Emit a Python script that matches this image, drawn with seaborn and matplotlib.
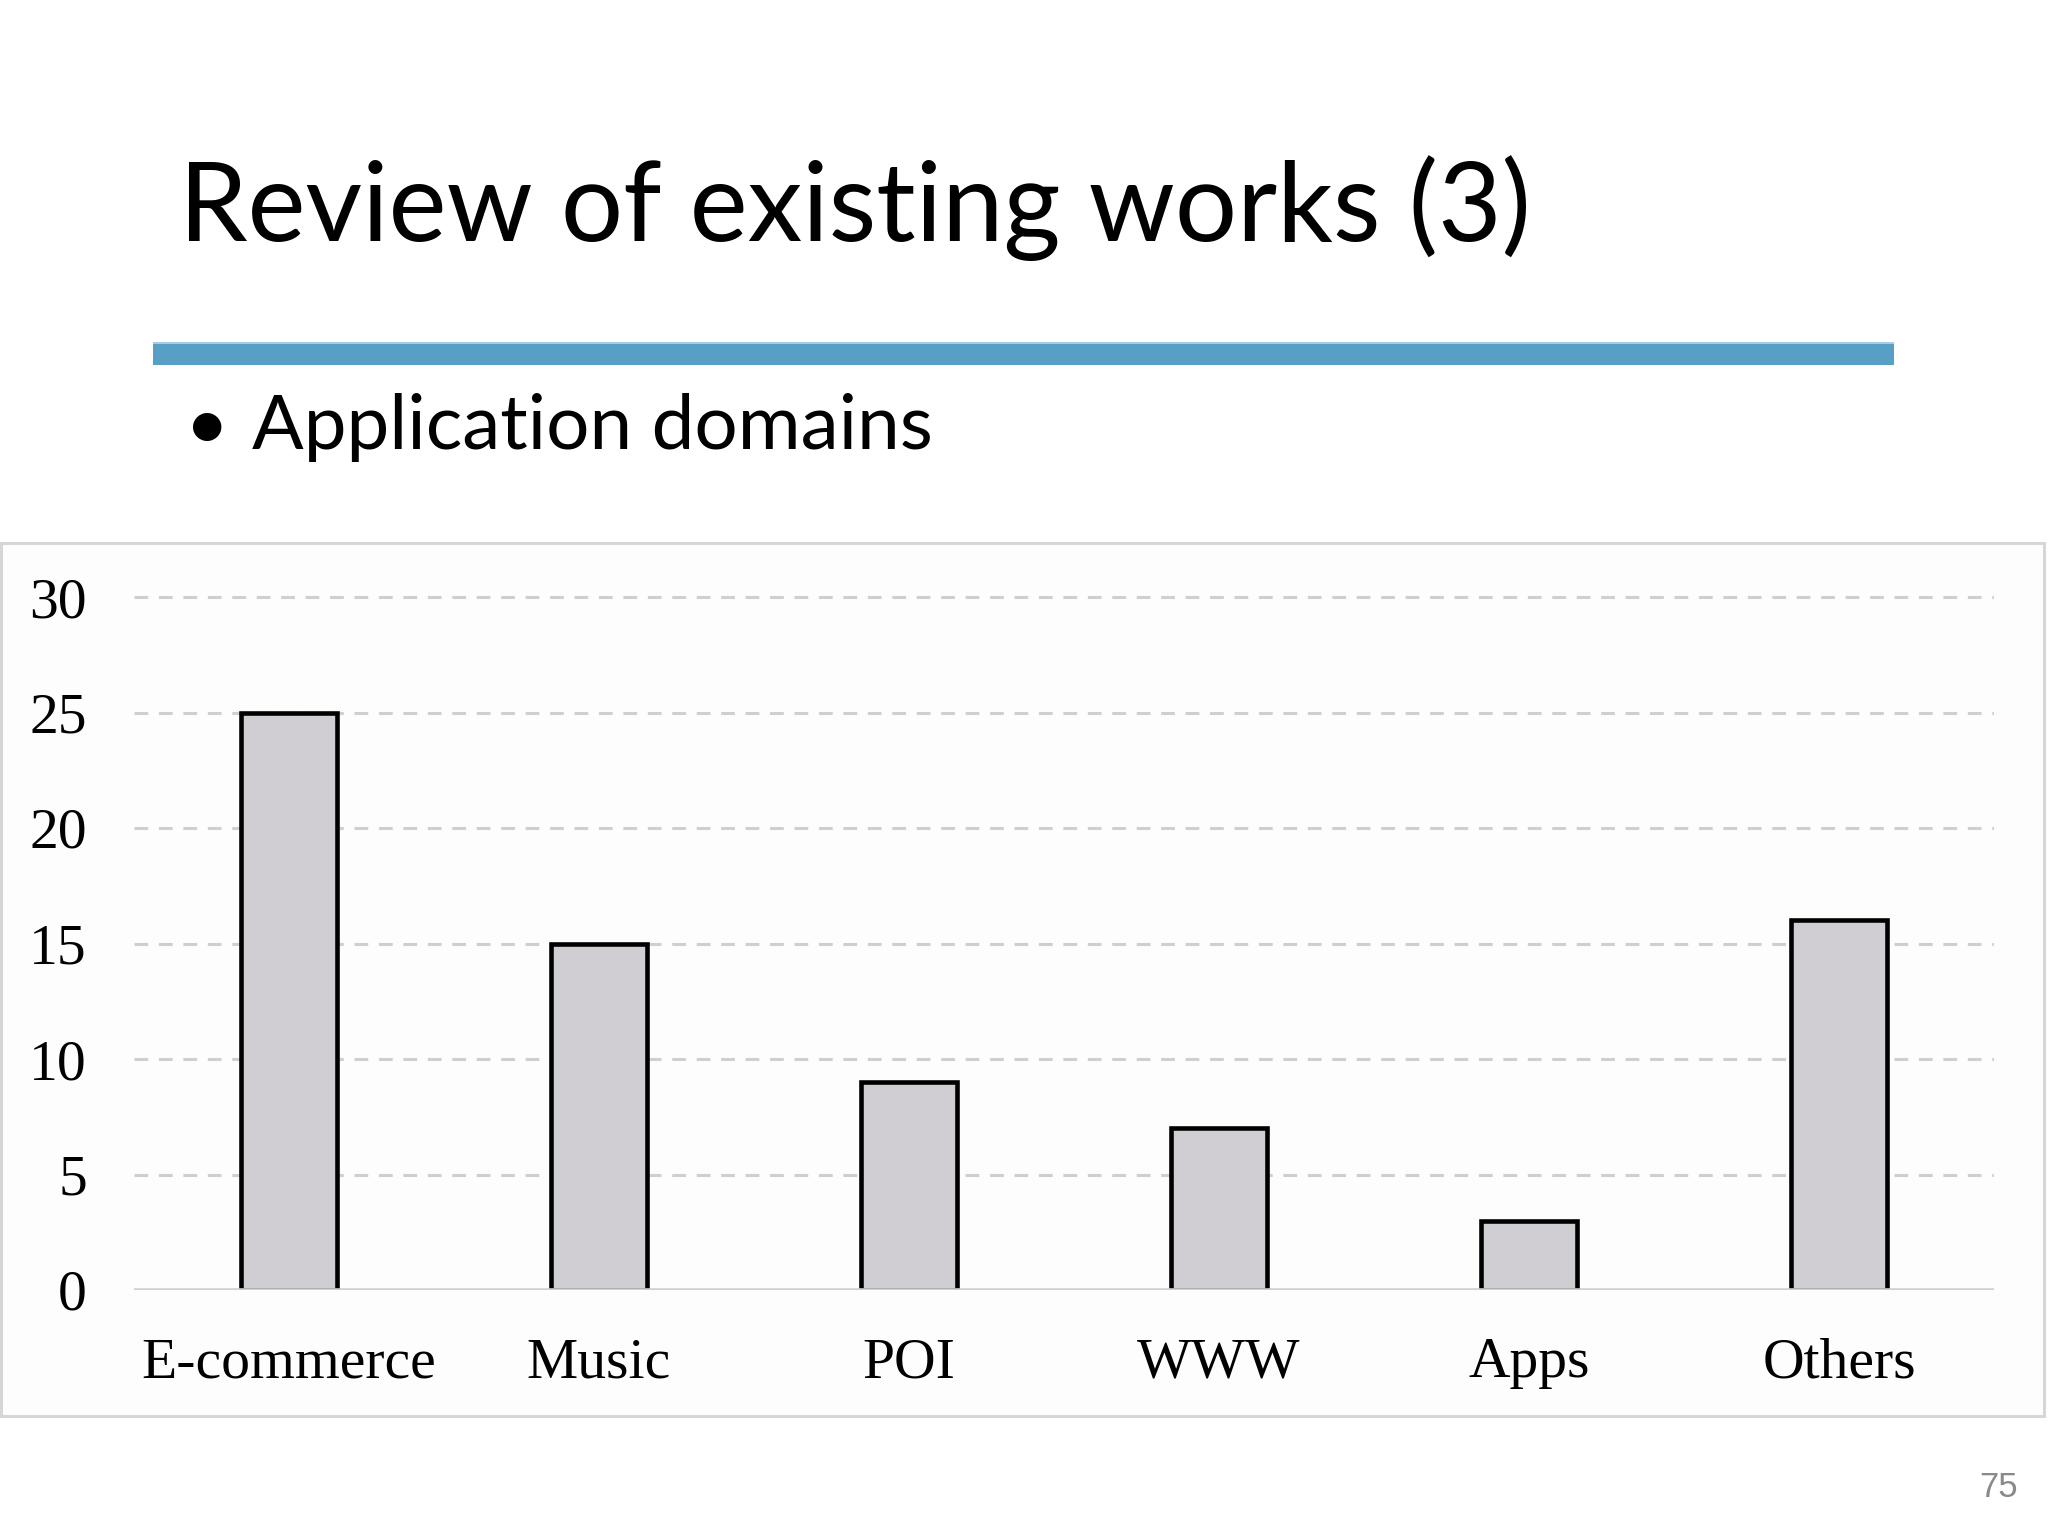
import matplotlib
matplotlib.use("Agg")
import matplotlib.pyplot as plt
from matplotlib.patches import Rectangle
import seaborn as sns
import pandas as pd

# ---- data ----
categories = ["E-commerce", "Music", "POI", "WWW", "Apps", "Others"]
counts = [25, 15, 9, 7, 3, 16]
y_ticks = [0, 5, 10, 15, 20, 25, 30]

title_text = "Review of existing works (3)"
bullet_text = "Application domains"
page_number = "75"

W, H = 2048, 1536
sns.set_theme(style="white")
plt.rcParams['font.family'] = ['Liberation Serif', 'DejaVu Serif']

fig = plt.figure(figsize=(W / 100, H / 100), dpi=100)
fig.patch.set_facecolor("white")

def fx(px):
    return px / W

def fy(py):
    return 1 - py / H

# panel border of embedded chart image
fig.patches.append(Rectangle((fx(1), fy(1416)), fx(2044) - fx(1), fy(543) - fy(1416),
                             transform=fig.transFigure, facecolor="#fdfdfe",
                             edgecolor="#d6d6d6", linewidth=2.2, zorder=-5))

# title
fig.text(fx(179), fy(241), title_text, fontsize=79, family=['Lato', 'DejaVu Sans'],
         color="black", va="baseline", ha="left")
# blue rule
fig.patches.append(Rectangle((fx(153), fy(365)), fx(1894) - fx(153), fy(342) - fy(365),
                             transform=fig.transFigure, facecolor="#579fc4",
                             edgecolor="none", zorder=1))
fig.patches.append(Rectangle((fx(153), fy(344)), fx(1894) - fx(153), fy(342) - fy(344),
                             transform=fig.transFigure, facecolor="#a6cde1",
                             edgecolor="none", zorder=2))
# bullet
fig.text(fx(185), fy(449), "\u2022", fontsize=55, family=['Lato', 'DejaVu Sans'],
         color="black", va="baseline", ha="left")
fig.text(fx(252), fy(449), bullet_text, fontsize=55, family=['Lato', 'DejaVu Sans'],
         color="black", va="baseline", ha="left")
# page number
fig.text(fx(2018), fy(1497), page_number, fontsize=25, family=['Liberation Sans', 'DejaVu Sans'],
         color="#8a8a8a", va="baseline", ha="right")

# ---- chart ----
px_per_unit = (1290 - 597) / 30.0
ytop = 30.4
ax = fig.add_axes([fx(134), fy(1290), fx(1994) - fx(134), ytop * px_per_unit / H])
ax.set_facecolor("none")
ax.set_zorder(2)

df = pd.DataFrame({"domain": categories, "count": counts})
sns.barplot(data=df, x="domain", y="count", color="#d0ced3", saturation=1,
            edgecolor="black", linewidth=3.3, width=0.31, ax=ax, zorder=3)

ax.set_xlim(-0.5, len(categories) - 0.5)
ax.set_ylim(0, ytop)
ax.set_yticks(y_ticks)
ax.set_xlabel("")
ax.set_ylabel("")
for s in ax.spines.values():
    s.set_visible(False)
ax.yaxis.grid(True, linestyle=(0, (4.5, 3.5)), color="#cfcfcf", linewidth=2.2)
ax.xaxis.grid(False)
ax.set_axisbelow(True)
ax.axhline(0, color="#d0d0d0", linewidth=2.6, zorder=5)
ax.tick_params(axis="both", length=0, labelsize=41.5, colors="black")
ax.tick_params(axis="y", pad=34)
ax.tick_params(axis="x", pad=34)

fig.savefig("out.png", dpi=100, facecolor="white")
